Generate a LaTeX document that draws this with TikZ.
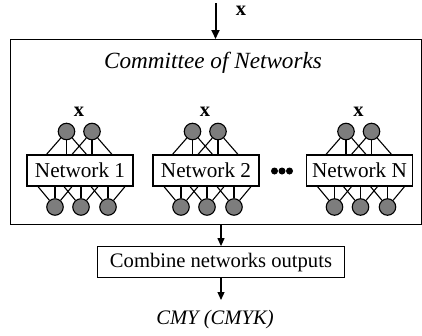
\documentclass[tikz,border=0pt]{standalone}
\usepackage{fontspec}
\setmainfont{Liberation Serif}
\usetikzlibrary{calc,arrows.meta}
\definecolor{ngray}{RGB}{125,125,125}
\begin{document}
\begin{tikzpicture}[x=1pt,y=-1pt,line width=1.2pt,
  netbox/.style={draw,fill=white,minimum width=106pt,minimum height=31pt,inner sep=0pt,font=\fontsize{21.2}{24}\selectfont},
  neuron/.style={circle,draw,fill=ngray,minimum size=16.5pt,inner sep=0pt,line width=1.1pt},
  dotn/.style={circle,fill=black,minimum size=7pt,inner sep=0pt},
  xlab/.style={font=\fontsize{20.5}{22}\selectfont\bfseries,inner sep=0pt},
  ital/.style={font=\fontsize{20.6}{24}\selectfont\itshape,inner sep=0pt},
  arr/.style={-{Triangle[length=8pt,width=7pt]}},
  link/.style={line width=1.1pt}
]
\useasboundingbox (0,0) rectangle (422,335);
% committee frame
\node[draw,minimum width=410.5pt,minimum height=184.5pt,inner sep=0pt,anchor=north west] (committee) at (10,39) {};
\node[font=\fontsize{23.2}{26}\selectfont\itshape,inner sep=0pt] (title) at (213,63) {Committee of Networks};
% input
\coordinate (in) at (215.5,3);
\node[xlab] (xin) at (241,11) {x};
\draw[arr,line width=2pt,-{Triangle[length=9pt,width=8pt]}] (in) -- (committee.north -| in);
% networks
\foreach \i/\c/\lab in {1/80/Network 1,2/206/Network 2,3/359.5/Network N}{
  \node[netbox] (net\i) at (\c,170.5) {\lab};
  \node[neuron] (ta\i) at (\c-13.5,131.5) {};
  \node[neuron] (tb\i) at (\c+12,131.5) {};
  \node[xlab] (x\i) at (\c-1,112) {x};
  \node[neuron] (ba\i) at (\c-25,207) {};
  \node[neuron] (bb\i) at (\c+1,207) {};
  \node[neuron] (bc\i) at (\c+28,207) {};
  \foreach \n in {ta,tb}{
    \foreach \d/\k in {-20/l,0/m,20/r}{
      \coordinate (\n\i\k) at ($(\n\i.center |- net\i.north)+(\d,0)$);
      \draw[link] (\n\i) -- (\n\i\k);
    }
  }
  \foreach \n in {ba,bb,bc}{
    \foreach \d/\k in {-17/l,0/m,17/r}{
      \coordinate (\n\i\k) at ($(\n\i.center |- net\i.south)+(\d,0)$);
      \draw[link] (\n\i) -- (\n\i\k);
    }
  }
}
% ellipsis dots
\node[dotn] (d1) at (274.5,171) {};
\node[dotn] (d2) at (282,171) {};
\node[dotn] (d3) at (289.5,171) {};
% combine
\node[draw,minimum width=247pt,minimum height=31pt,inner sep=0pt,font=\fontsize{20.6}{24}\selectfont] (comb) at (221,262.2) {Combine networks outputs};
\draw[arr] (committee.south -| comb) -- (comb.north);
\coordinate (outend) at (221,300);
\draw[arr] (comb.south) -- (outend);
\node[ital] (out) at (215,320) {CMY (CMYK)};
\end{tikzpicture}
\end{document}
